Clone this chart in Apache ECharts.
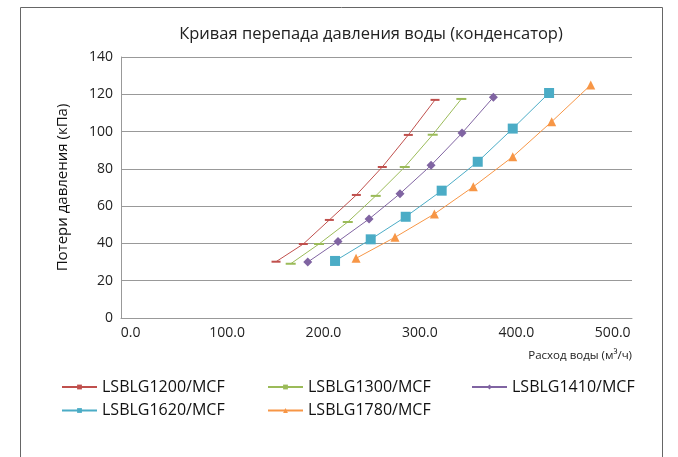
<!DOCTYPE html>
<html>
<head>
<meta charset="utf-8">
<script src="https://cdn.jsdelivr.net/npm/echarts@6/dist/echarts.min.js"></script>
<style>html,body{margin:0;padding:0;background:#fff}#c{width:678px;height:457px}</style>
</head>
<body>
<div id="c"></div>
<script>
const seriesNames = ['LSBLG1200/MCF','LSBLG1300/MCF','LSBLG1410/MCF','LSBLG1620/MCF','LSBLG1780/MCF'];
const s1200 = [[150.8,30.2],[179.1,39.7],[206.1,52.6],[234.1,66],[261,81],[288,98.2],[315.7,117]];
const s1300 = [[166,29.1],[195.4,39.7],[225.2,51.5],[254.2,65.5],[284.3,81],[313.3,98.3],[343,117.5]];
const s1410 = [[183.7,30],[215.1,41.1],[247.3,53.1],[279.4,66.7],[311.6,81.9],[343.7,99.2],[376.2,118.4]];
const s1620 = [[212,30.6],[249,42.2],[285.3,54.3],[322.6,68.3],[360,83.8],[396.3,101.6],[434,120.7]];
const s1780 = [[233.8,32],[274.2,43.3],[315,55.8],[355.4,70.4],[396.3,86.5],[436.7,105.3],[477.2,125]];
const xTicks = [0,100,200,300,400,500];
const titleText = 'Кривая перепада давления воды (конденсатор)';
const yName = 'Потери давления (кПа)';
const xName = 'Расход воды (м³/ч)';

const colors = ['#C0504D','#9BBB59','#8064A2','#4BACC6','#F79646'];
const symbols = ['rect','rect','diamond','rect','triangle'];
const sizes = [[9,2],[10,2],9,10,9];
const datasets = [s1200,s1300,s1410,s1620,s1780];
const font = 'Open Sans';

const chart = echarts.init(document.getElementById('c'));
const legendPos = [[56,374],[262,374],[466,374],[56,397.5],[262,397.5]];
chart.setOption({
  animation:false,
  textStyle:{fontFamily:font},
  grid:{left:121,right:46,top:57,bottom:139},
  legend: seriesNames.map((n,i)=>({
    data:[n], left:legendPos[i][0], top:legendPos[i][1],
    itemWidth:35, itemHeight:6, itemGap:6,
    textStyle:{fontSize:16,color:'#111',fontFamily:font}
  })),
  xAxis:{
    type:'value', min:-10, max:520,
    axisLine:{show:true,lineStyle:{color:'#999'}},
    axisTick:{show:false},
    splitLine:{show:false},
    axisLabel:{customValues:xTicks, formatter:v=>v.toFixed(1), fontSize:14, color:'#222', margin:8, fontFamily:font}
  },
  yAxis:{
    type:'value', min:0, max:140, interval:20,
    axisLine:{show:true,onZero:false,lineStyle:{color:'#999'}},
    axisTick:{show:false},
    splitLine:{lineStyle:{color:'#999',width:1}},
    axisLabel:{fontSize:14,color:'#222',margin:8,fontFamily:font},
    name:yName, nameLocation:'middle', nameGap:51, nameRotate:90,
    nameTextStyle:{fontSize:15,color:'#111',fontFamily:font}
  },
  graphic:[
    {type:'rect',shape:{x:20.5,y:7.5,width:642,height:470},style:{fill:'none',stroke:'#666',lineWidth:1},silent:true,z:-1},
    {type:'text',x:371,y:34,style:{text:titleText,font:'16.5px "'+font+'"',fill:'#222',textAlign:'center',textVerticalAlign:'middle'}},
    {type:'text',x:632,y:356,style:{text:xName,font:'11.5px "'+font+'"',fill:'#222',textAlign:'right',textVerticalAlign:'middle'}}
  ],
  series: datasets.map((d,i)=>({
    name:seriesNames[i], type:'line', data:d,
    symbol:symbols[i], symbolSize:sizes[i],
    lineStyle:{color:colors[i],width:1},
    itemStyle:{color:colors[i]},
    showAllSymbol:true
  }))
});
</script>
</body>
</html>
